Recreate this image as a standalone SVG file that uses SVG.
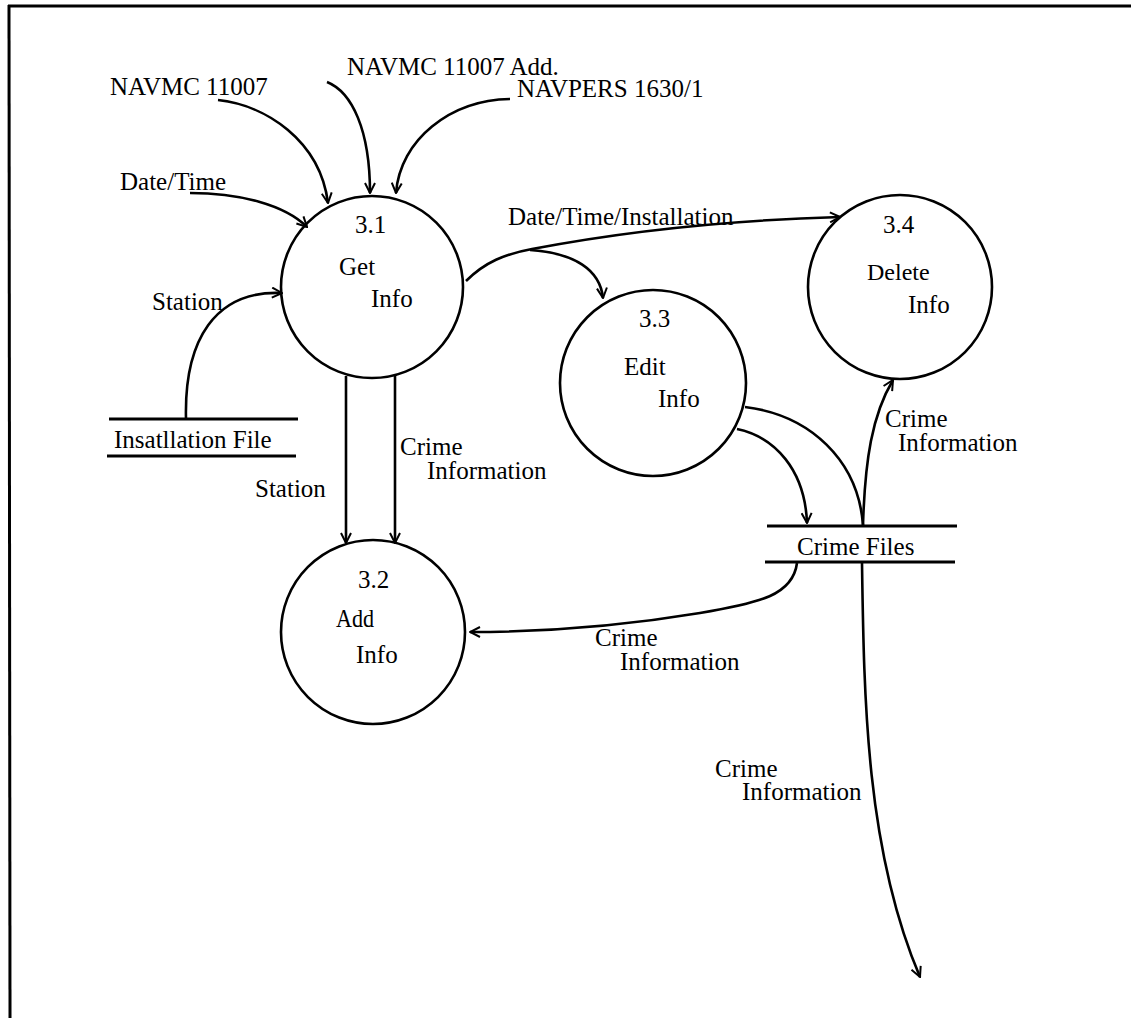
<svg xmlns="http://www.w3.org/2000/svg" width="1131" height="1018" viewBox="0 0 1131 1018">
<style>
text { font-family: "Liberation Serif", "Times New Roman", serif; font-size: 25px; fill: #000; }
.node circle { fill: none; stroke: #000; stroke-width: 2.6; }
.store line { stroke: #000; stroke-width: 3; }
#connectors path, #connectors line { fill: none; stroke: #000; stroke-width: 2.6; }
.frame { stroke: #000; stroke-width: 3; }
</style>
<defs>
<marker id="arr" viewBox="0 0 12 12" refX="11" refY="6" markerWidth="12" markerHeight="12" markerUnits="userSpaceOnUse" orient="auto">
<path d="M1,1 L11,6 L1,11" fill="none" stroke="#000" stroke-width="2"/>
</marker>
</defs>
<rect width="1131" height="1018" fill="#fff"/>
<line class="frame" x1="8" y1="6" x2="1131" y2="6"/>
<line class="frame" x1="9" y1="5" x2="10" y2="1018"/>

<g id="connectors">
<path d="M218,100 C265,105 320,140 328,203" marker-end="url(#arr)"/>
<path d="M327,82 C352,92 370,130 370,193" marker-end="url(#arr)"/>
<path d="M510,99 C450,100 400,140 396,193" marker-end="url(#arr)"/>
<path d="M190,193 C240,193 285,205 307,227" marker-end="url(#arr)"/>
<path d="M186,419 C184,340 215,290 282,293" marker-end="url(#arr)"/>
<path d="M346,376 L346,543" marker-end="url(#arr)"/>
<path d="M395,376 L395,543" marker-end="url(#arr)"/>
<path d="M466,281 C485,262 505,254 532,249 C600,236 700,221 840,217" marker-end="url(#arr)"/>
<path d="M530,250 C575,253 600,270 603,298" marker-end="url(#arr)"/>
<path d="M737,429 C775,437 805,470 807,523" marker-end="url(#arr)"/>
<path d="M745,407 C810,415 858,460 863,525"/>
<path d="M863,525 C865,460 872,415 893,380" marker-end="url(#arr)"/>
<path d="M797,563 C793,595 760,603 700,613 C640,623 560,632 470,632" marker-end="url(#arr)"/>
<path d="M862,563 C864,700 866,850 920,977" marker-end="url(#arr)"/>
</g>

<g id="labels">
<text x="110" y="95">NAVMC 11007</text>
<text x="347" y="75">NAVMC 11007 Add.</text>
<text x="517" y="97">NAVPERS 1630/1</text>
<text x="120" y="190">Date/Time</text>
<text x="152" y="310">Station</text>
<text x="255" y="497">Station</text>
<text x="400" y="455">Crime</text>
<text x="427" y="479">Information</text>
<text x="508" y="225">Date/Time/Installation</text>
<text x="885" y="427">Crime</text>
<text x="898" y="451">Information</text>
<text x="595" y="646">Crime</text>
<text x="620" y="670">Information</text>
<text x="715" y="777">Crime</text>
<text x="742" y="800">Information</text>
</g>

<g id="node-3-1" class="node">
<circle cx="372" cy="287" r="91"/>
<text x="355" y="233">3.1</text>
<text x="339" y="275">Get</text>
<text x="371" y="307">Info</text>
</g>
<g id="node-3-2" class="node">
<circle cx="373" cy="632" r="92"/>
<text x="358" y="588">3.2</text>
<text x="336" y="627" textLength="38" lengthAdjust="spacingAndGlyphs">Add</text>
<text x="356" y="663">Info</text>
</g>
<g id="node-3-3" class="node">
<circle cx="653" cy="383" r="93"/>
<text x="639" y="327">3.3</text>
<text x="624" y="375">Edit</text>
<text x="658" y="407">Info</text>
</g>
<g id="node-3-4" class="node">
<circle cx="900" cy="287" r="92"/>
<text x="883" y="233">3.4</text>
<text x="867" y="280" style="font-size:24px">Delete</text>
<text x="908" y="313">Info</text>
</g>
<g id="store-installation" class="store">
<line x1="109" y1="419" x2="298" y2="419"/>
<line x1="107" y1="456" x2="296" y2="456"/>
<text x="114" y="448">Insatllation File</text>
</g>
<g id="store-crime" class="store">
<line x1="767" y1="526" x2="957" y2="526"/>
<line x1="765" y1="562" x2="955" y2="562"/>
<text x="797" y="555">Crime Files</text>
</g>
</svg>
